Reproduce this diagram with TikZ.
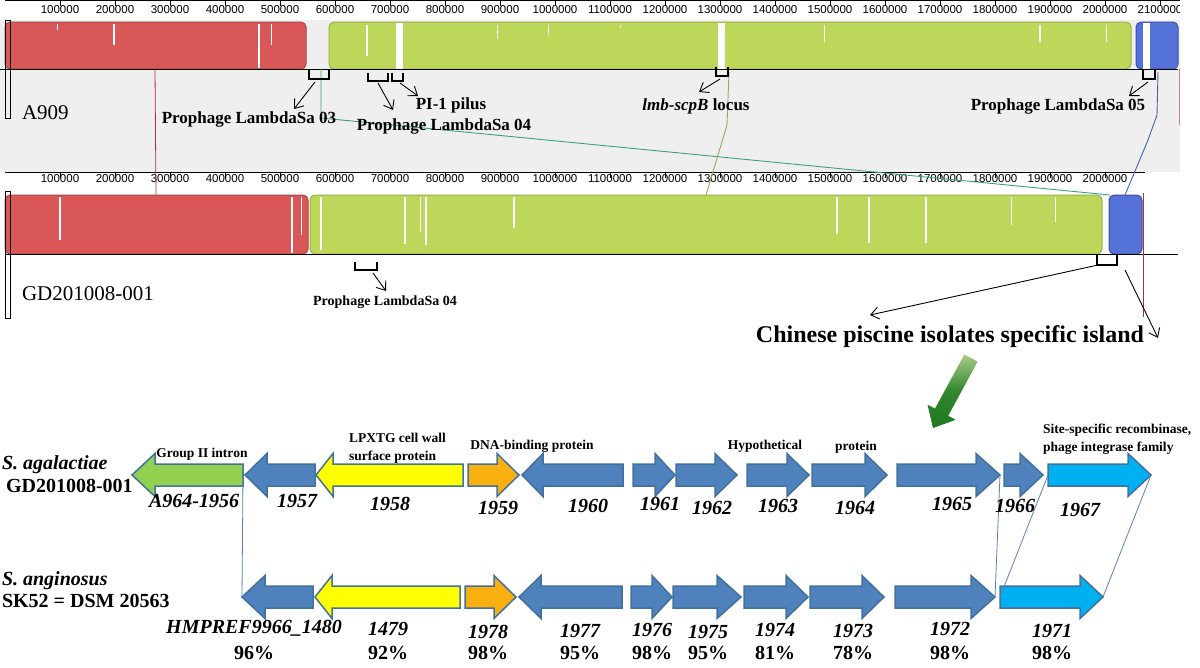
\documentclass[tikz,border=0pt]{standalone}
\usepackage{fontspec}
\setmainfont{Liberation Serif}
\newfontfamily\rulerfont{Liberation Sans}
\usetikzlibrary{arrows.meta}
\definecolor{barred}{HTML}{D95757}
\definecolor{barredE}{HTML}{A84848}
\definecolor{bargreen}{HTML}{BCD75A}
\definecolor{bargreenE}{HTML}{98B048}
\definecolor{barblue}{HTML}{5572D8}
\definecolor{barblueE}{HTML}{3A50A8}
\definecolor{panelgray}{HTML}{EFEFEF}
\definecolor{geneblue}{HTML}{4F81BD}
\definecolor{geneedge}{HTML}{41719C}
\definecolor{geneyellow}{HTML}{FFFF00}
\definecolor{geneorange}{HTML}{F8B010}
\definecolor{genegreen}{HTML}{92D050}
\definecolor{genecyan}{HTML}{00B0F0}
\definecolor{linkblue}{HTML}{5B80B0}
\definecolor{tealline}{HTML}{3AA080}
\definecolor{oliveline}{HTML}{A8A060}
\definecolor{lcbred}{HTML}{B03040}
\definecolor{lcbblue}{HTML}{4060B0}
\definecolor{arrowdark}{HTML}{1E7A1E}
\definecolor{arrowlight}{HTML}{A8CC88}
\newcommand\geneR[6]{%
  \path[fill=#6,draw=geneedge,line width=1.5pt,line join=miter]
    (#2,#4-11) -- (#3-#5,#4-11) -- (#3-#5,#4-21.5) -- (#3,#4) -- (#3-#5,#4+21.5) -- (#3-#5,#4+11) -- (#2,#4+11) -- cycle;
  \coordinate (#1-l) at (#2,#4); \coordinate (#1-r) at (#3,#4);}
\newcommand\geneL[6]{%
  \path[fill=#6,draw=geneedge,line width=1.5pt,line join=miter]
    (#3,#4-11) -- (#2+#5,#4-11) -- (#2+#5,#4-21.5) -- (#2,#4) -- (#2+#5,#4+21.5) -- (#2+#5,#4+11) -- (#3,#4+11) -- cycle;
  \coordinate (#1-l) at (#2,#4); \coordinate (#1-r) at (#3,#4);}
\newcommand\brk[5]{%
  \draw[brk] (#2,#4) -- (#2,#5) -- (#3,#5) -- (#3,#4);
  \coordinate (#1) at ({(#2+#3)/2},#5);}
\tikzset{
  txt/.style={inner sep=0pt, outer sep=0pt, text height=1.45ex, text depth=0.2ex},
  lbl/.style={txt, font=\bfseries\fontsize{17}{19}\selectfont},
  genelbl/.style={txt, font=\bfseries\itshape\fontsize{20}{22}\selectfont},
  pct/.style={txt, font=\bfseries\fontsize{20}{22}\selectfont},
  smalllbl/.style={txt, font=\bfseries\fontsize{13.5}{18.5}\selectfont},
  rulerlbl/.style={txt, font=\rulerfont\fontsize{11.5}{12}\selectfont},
  brk/.style={line width=2.6pt, line cap=butt, line join=miter},
  ptr/.style={line width=0.9pt, -{Straight Barb[length=8pt,width=12pt]}},
  link/.style={linkblue, line width=0.8pt},
  streak/.style={white, line width=1.6pt},
  bar/.style={rounded corners=5pt, line width=1pt},
}
\begin{document}
\begin{tikzpicture}[x=1pt,y=-1pt]
\useasboundingbox (0,0) rectangle (1200,667);
% ---------- top panel -----------
\fill[panelgray] (0,20) rectangle (1180,172);
\draw[line width=0.6pt] (5,0.6) -- (1180,0.6);
\begin{scope}
\clip (0,0) rectangle (1179,20);
\foreach \k in {1,...,21} {
  \draw[line width=0.5pt] (5+55*\k,0.6) -- (5+55*\k,6);
  \node[rulerlbl] (rt\k) at (5+55*\k,11) {\k00000};
}
\end{scope}
\path[bar, fill=barred, draw=barredE] (5,22) rectangle (306,69);
\path[bar, fill=bargreen, draw=bargreenE] (329,22) rectangle (1131,69);
\path[bar, fill=barblue, draw=barblueE] (1136,22) rectangle (1178,69);
% streaks top
\draw[streak, line width=0.8pt] (57,24) -- (57,30);
\draw[streak] (114,24) -- (114,45);
\draw[streak] (259,24) -- (259,68);
\draw[streak, line width=1pt] (271,24) -- (271,45);
\draw[streak] (367,25) -- (367,56);
\fill[white] (396,22.5) rectangle (403,68.5);
\draw[streak, line width=1pt] (497,25) -- (497,38);
\draw[streak, line width=1pt] (548,25) -- (548,35);
\draw[streak, line width=1pt] (620,25) -- (620,28);
\fill[white] (718,22.5) rectangle (725,68.5);
\draw[streak, line width=1pt] (824,25) -- (824,42);
\draw[streak] (1040,25) -- (1040,42);
\draw[streak, line width=1pt] (1106,25) -- (1106,42);
\fill[white] (1143,22.5) rectangle (1150,68.5);
\draw[line width=0.8pt] (0,69) -- (1178,69);
\draw[line width=0.6pt] (5,20) rectangle (10,118);
\draw[lcbred!60, line width=1pt] (1179,69) -- (1179,125);
% ---------- middle ruler -----------
\draw[line width=0.8pt] (5,172) -- (1145,172);
\foreach \k in {1,...,20} {
  \draw[line width=0.5pt] (5+55*\k,172) -- (5+55*\k,178);
  \node[rulerlbl] (rm\k) at (5+55*\k,180) {\k00000};
}
\path[bar, fill=barred, draw=barredE] (5,195) rectangle (308,254);
\path[bar, fill=bargreen, draw=bargreenE] (310,195) rectangle (1102,254);
\path[bar, fill=barblue, draw=barblueE] (1109,195) rectangle (1142,254);
% streaks second
\draw[streak] (60,197) -- (60,240);
\draw[streak] (292,197) -- (292,253);
\draw[streak, line width=1pt] (301,197) -- (301,235);
\draw[streak] (321,197) -- (321,250);
\draw[streak] (405,197) -- (405,244);
\draw[streak, line width=1pt] (420,197) -- (420,232);
\draw[streak] (426,197) -- (426,245);
\draw[streak] (514,197) -- (514,228);
\draw[streak] (837,197) -- (837,234);
\draw[streak] (869,197) -- (869,243);
\draw[streak] (926,197) -- (926,243);
\draw[streak, line width=1pt] (1011,197) -- (1011,225);
\draw[streak, line width=1pt] (1055,197) -- (1055,222);
\draw[line width=0.8pt] (5,254) -- (1178,254);
\draw[line width=0.6pt] (5,191) rectangle (10,318);
\draw[lcbred, line width=0.8pt] (1143,193) -- (1143,317);
% ---------- LCB connectors -----------
\coordinate (rA) at (155,69); \coordinate (rB) at (156,195);
\draw[lcbred, line width=0.8pt] (rA) -- (rB);
\coordinate (tA) at (321,69); \coordinate (tB) at (321,118); \coordinate (tC) at (1110,195);
\draw[tealline, line width=0.9pt] (tA) -- (tB) -- (tC);
\coordinate (oA) at (729,72); \coordinate (oB) at (727,125); \coordinate (oC) at (706,195);
\draw[oliveline, line width=0.9pt] (oA) -- (oB) -- (oC);
\coordinate (bA) at (1158,72); \coordinate (bB) at (1157,115); \coordinate (bC) at (1148,140); \coordinate (bD) at (1125,195);
\draw[lcbblue, line width=0.9pt] (bA) -- (bB) -- (bC) -- (bD);
% ---------- brackets and labels -----------
\brk{k03}{309}{329}{69}{79}
\brk{k04}{368}{388}{73}{81}
\brk{kPI}{392}{403}{73}{81}
\brk{klmb}{716}{728}{67}{76}
\brk{k05}{1143}{1155}{69}{79}
\brk{k04b}{355}{377}{262}{270}
\brk{kisl}{1097}{1117}{254}{265}
\node[lbl] (l03) at (249,121) {Prophage LambdaSa 03};
\node[lbl] (lPI) at (451,107) {PI-1 pilus};
\node[lbl] (l04) at (444,128) {Prophage LambdaSa 04};
\node[lbl] (llmb) at (696,108) {\textit{lmb-scpB} locus};
\node[lbl] (l05) at (1058,108) {Prophage LambdaSa 05};
\node[txt, font=\bfseries\fontsize{14}{16}\selectfont] (l04b) at (385,303) {Prophage LambdaSa 04};
\node[txt, font=\bfseries\fontsize{24}{26}\selectfont] (lisl) at (950,340) {Chinese piscine isolates specific island};
\coordinate (p03) at (294,109);
\draw[ptr] (315,82) -- (p03);
\coordinate (p04) at (393,110);
\draw[ptr] (378,83) -- (p04);
\coordinate (pPI) at (418,96);
\draw[ptr] (400,83) -- (pPI);
\coordinate (plmb) at (699,92);
\draw[ptr] (720,79) -- (plmb);
\coordinate (p05) at (1129,96);
\draw[ptr] (1148,82) -- (p05);
\coordinate (p04b) at (386,291);
\draw[ptr] (373,273) -- (p04b);
\coordinate (is0) at (1098,265); \coordinate (is1) at (1125,270);
\coordinate (pis1) at (870,315); \coordinate (pis2) at (1158,338);
\draw[ptr] (is0) -- (pis1);
\draw[ptr] (is1) -- (pis2);
\node[txt, font=\fontsize{21}{23}\selectfont, anchor=west] (nA) at (22,117) {A909};
\node[txt, font=\fontsize{21}{23}\selectfont, anchor=west] (nG) at (22,298) {GD201008-001};
% ---------- green arrow -----------
\shade[top color=arrowlight, bottom color=arrowdark, middle color=arrowdark!85!arrowlight]
  (933,428) -- (955.7,419.8) -- (948.2,415.8) -- (977.6,361.6) -- (964.4,354.4) -- (935,408.6) -- (927.5,404.6) -- cycle;
% ---------- gene panel -----------
\draw[link] (243,475) -- (242,597);
\geneL{g1956}{132}{243}{475}{23}{genegreen}
\geneL{g1957}{245}{315}{475}{22}{geneblue}
\geneL{g1958}{316}{463}{475}{17}{geneyellow}
\geneR{g1959}{468}{519}{475}{22}{geneorange}
\geneL{g1960}{522}{623}{475}{21}{geneblue}
\geneR{g1961}{633}{675}{475}{20}{geneblue}
\geneR{g1962}{676}{737}{475}{22}{geneblue}
\geneR{g1963}{747}{809}{475}{22}{geneblue}
\geneR{g1964}{812}{887}{475}{22}{geneblue}
\geneR{g1965}{897}{1000}{475}{24}{geneblue}
\geneR{g1966}{1004}{1043}{475}{23}{geneblue}
\geneR{g1967}{1048}{1151}{475}{23}{genecyan}
\geneL{h1480}{242}{313}{597}{23}{geneblue}
\geneL{h1479}{315}{460}{597}{17}{geneyellow}
\geneR{h1978}{465}{516}{597}{22}{geneorange}
\geneL{h1977}{519}{622}{597}{22}{geneblue}
\geneR{h1976}{631}{672}{597}{20}{geneblue}
\geneR{h1975}{673}{741}{597}{24}{geneblue}
\geneR{h1974}{744}{808}{597}{22}{geneblue}
\geneR{h1973}{810}{884}{597}{22}{geneblue}
\geneR{h1972}{895}{995}{597}{24}{geneblue}
\geneR{h1971}{1000}{1103}{597}{23}{genecyan}
\draw[link] (g1965-r) -- (h1972-r);
\draw[link] (g1967-l) -- (h1971-l);
\draw[link] (g1967-r) -- (h1971-r);
% species
\node[txt, font=\bfseries\itshape\fontsize{20}{22}\selectfont, anchor=west] (sp1) at (2,467) {S. agalactiae};
\node[txt, font=\bfseries\fontsize{20}{22}\selectfont, anchor=west] (sp1b) at (6,490) {GD201008-001};
\node[txt, font=\bfseries\itshape\fontsize{20}{22}\selectfont, anchor=west] (sp2) at (2,583) {S. anginosus};
\node[txt, font=\bfseries\fontsize{20}{22}\selectfont, anchor=west] (sp2b) at (2,605) {SK52 = DSM 20563};
% function labels
\node[smalllbl] (fGII) at (202,455) {Group II intron};
\node[smalllbl, align=left, anchor=west] (fLP) at (349,458) {LPXTG cell wall\\surface protein};
\node[smalllbl] (fDNA) at (532,447) {DNA-binding protein};
\node[smalllbl] (fHyp) at (765,447) {Hypothetical};
\node[smalllbl] (fPro) at (856,448) {protein};
\node[smalllbl, align=left, anchor=west] (fSite) at (1043,449) {Site-specific recombinase,\\phage integrase family};
% gene labels row 1
\node[genelbl] at (194,505) {A964-1956};
\node[genelbl] at (297,505) {1957};
\node[genelbl] at (390,508) {1958};
\node[genelbl] at (498,512) {1959};
\node[genelbl] at (588,510) {1960};
\node[genelbl] at (660,508) {1961};
\node[genelbl] at (712,512) {1962};
\node[genelbl] at (778,510) {1963};
\node[genelbl] at (855,512) {1964};
\node[genelbl] at (952,508) {1965};
\node[genelbl] at (1015,510) {1966};
\node[genelbl] at (1080,514) {1967};
% gene labels row 2
\node[genelbl] at (254,631) {HMPREF9966\_1480};
\node[genelbl] at (388,633) {1479};
\node[genelbl] at (488,636) {1978};
\node[genelbl] at (580,635) {1977};
\node[genelbl] at (652,634) {1976};
\node[genelbl] at (708,636) {1975};
\node[genelbl] at (775,634) {1974};
\node[genelbl] at (853,635) {1973};
\node[genelbl] at (950,633) {1972};
\node[genelbl] at (1052,635) {1971};
\foreach \x/\p in {254/96,388/92,488/98,580/95,652/98,708/95,775/81,853/78,950/98,1052/98}
  \node[pct] at (\x,657) {\p\%};
\end{tikzpicture}
\end{document}
